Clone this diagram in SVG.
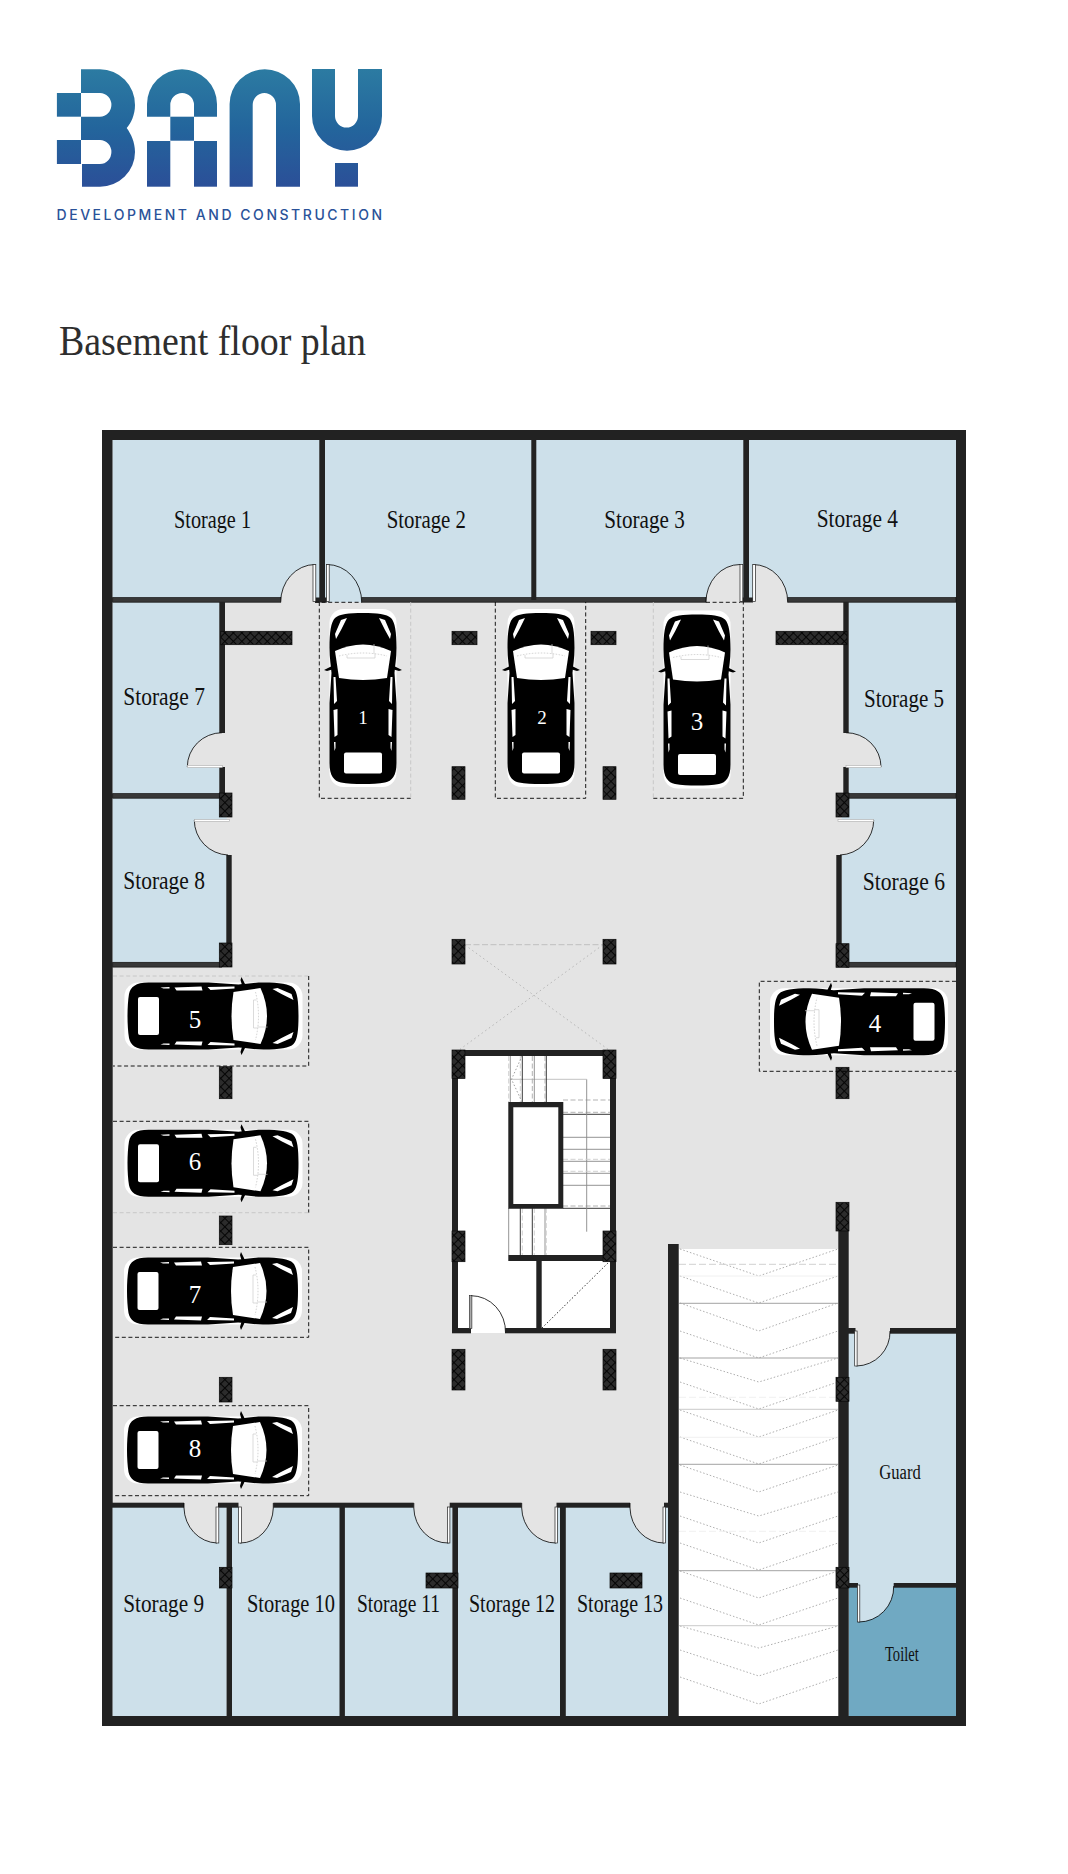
<svg xmlns="http://www.w3.org/2000/svg" xmlns:xlink="http://www.w3.org/1999/xlink" width="1068" height="1874" viewBox="0 0 1068 1874">
<style>
.wall{fill:#222}
.wall2{fill:#383838;stroke:#111;stroke-width:.7}
.room{fill:#cde0ea}
.col{fill:url(#hatch);stroke:#0a0a0a;stroke-width:.7}
.df{stroke:none}
.arc{fill:none;stroke:#000;stroke-width:.8}
.leaf{fill:#fff;stroke:#222;stroke-width:.7}
.leafh{fill:#fff;stroke:#aaa;stroke-width:.6}
.pk{fill:none;stroke:#000;stroke-width:.9;stroke-dasharray:4 2.6}
.pkf{fill:none;stroke:#c4c4c4;stroke-width:.9;stroke-dasharray:4 2.6}
.lbl{font-family:"Liberation Serif",serif;font-size:25px;fill:#111}
.num{font-family:"Liberation Serif",serif;font-size:25px;fill:#fff;text-anchor:middle}
.chev{fill:none;stroke:#999;stroke-width:.8;stroke-dasharray:1.5 2}
.st{stroke:#888;stroke-width:.9;fill:none}
.sk{stroke:#222;stroke-width:.9;fill:none}
.sd{stroke:#aaa;stroke-width:.9;fill:none;stroke-dasharray:5 2.5}
.sl{stroke:#ccc;stroke-width:.9;fill:none;stroke-dasharray:5 2.5}
</style>
<defs>
<linearGradient id="logoG" gradientUnits="userSpaceOnUse" x1="0" y1="69" x2="0" y2="187">
<stop offset="0" stop-color="#2c7ba2"/><stop offset=".5" stop-color="#23659c"/><stop offset="1" stop-color="#2b4f98"/>
</linearGradient>
<pattern id="hatch" width="6" height="6" patternUnits="userSpaceOnUse" patternTransform="rotate(45)">
<rect width="6" height="6" fill="#2c2c2c"/><path d="M0 0H6M0 0V6" stroke="#060606" stroke-width="2.2"/>
</pattern>
<g id="car">
<rect x="-33.5" y="-89" width="67" height="178" rx="14" fill="#fff"/>
<path fill="#000" d="M0 -85C-14 -85 -24 -84 -28 -80C-32 -76 -33.5 -66 -33.5 -50C-33.5 -40 -32 -32 -31.5 -25L-33.5 5V65C-33.5 78 -29 83 -22 84.5C-10 86.5 10 86.5 22 84.5C29 83 33.5 78 33.5 65V5L31.5 -25C32 -32 33.5 -40 33.5 -50C33.5 -66 32 -76 28 -80C24 -84 14 -85 0 -85Z"/>
<path fill="#000" d="M-29 -33L-39 -28L-36 -27L-29 -29ZM29 -33L39 -28L36 -27L29 -29Z"/>
<path fill="#fff" d="M-28 -47Q0 -60 28 -47L24 -20Q0 -16 -24 -20Z"/>
<rect x="-19" y="54.5" width="38" height="21" rx="2" fill="#fff"/>
<path fill="#fff" d="M-16 -80L-22 -78L-28 -64L-27 -59L-22 -68ZM16 -80L22 -78L28 -64L27 -59L22 -68Z"/>
<path fill="#fff" d="M-29.5 -21L-27.5 -21L-26 3L-29 6ZM29.5 -21L27.5 -21L26 3L29 6Z"/>
<path fill="#fff" d="M-29.5 12L-25.5 11L-25.5 37L-28.5 39ZM29.5 12L25.5 11L25.5 37L28.5 39Z"/>
<path fill="#fff" d="M-29 44L-27.5 44L-27.5 50L-28.5 53ZM29 44L27.5 44L27.5 50L28.5 53Z"/>
<path d="M-24 -42Q0 -48 24 -42" fill="none" stroke="#bbb" stroke-width=".7" stroke-dasharray="1.5 1.5"/>
<path d="M-16 -43V-40H12V-44M11 -54V-44" fill="none" stroke="#ccc" stroke-width=".7"/>
</g>
</defs>
<rect width="1068" height="1874" fill="#fff"/>

<g id="logo" fill="url(#logoG)">
<rect x="56.9" y="93" width="24.1" height="23.7"/>
<rect x="56.9" y="140" width="24.1" height="24"/>
<path d="M81 69.3H100A35 35.5 0 0 1 135 105C135 115 131 123 126.7 128C131 134 135 142 135 152A35 34.7 0 0 1 100 186.7H82V164H100A11.4 12 0 0 0 111.4 152A11.4 12 0 0 0 100 140H81V116.7H100A11.4 11.8 0 0 0 111.4 105A11.4 12 0 0 0 100 93H81Z"/>
<path d="M147 116.7V104A35 34.7 0 0 1 217 104V116.7H194V105A11.85 12 0 0 0 170.3 105V116.7Z"/>
<rect x="170.3" y="116.7" width="23.7" height="24"/>
<rect x="147" y="141" width="23.3" height="45.7"/>
<rect x="194" y="141" width="23" height="45.7"/>
<path d="M229.6 186.7V104A35.2 34.7 0 0 1 300 104V186.7H276V105A11.65 12 0 0 0 252.7 105V186.7Z"/>
<path d="M312 69H335V116A11.5 11.5 0 0 0 358 116V69H382V116A35 34.7 0 0 1 312 116Z"/>
<rect x="335" y="163" width="23" height="23.7"/>
<text x="56.5" y="220.3" font-family="Inter,'Liberation Sans',sans-serif" font-weight="500" font-size="14" fill="#2a5299" textLength="325.5">DEVELOPMENT AND CONSTRUCTION</text>
</g>
<text id="title" x="59" y="355" font-family="'Liberation Serif',serif" font-size="43" fill="#2e2e2e" textLength="307" lengthAdjust="spacingAndGlyphs">Basement floor plan</text>

<g id="floor">
<rect x="102" y="430" width="864" height="1296" fill="#222"/>
<rect x="112.7" y="440" width="843.3" height="1276" fill="#e4e4e4"/>
</g>

<g id="rooms">
<rect class="room" x="112.7" y="440" width="207" height="158"/>
<rect class="room" x="325" y="440" width="207" height="158"/>
<rect class="room" x="536" y="440" width="208" height="158"/>
<rect class="room" x="749" y="440" width="207" height="158"/>
<rect class="room" x="112.7" y="602" width="107" height="192"/>
<rect class="room" x="848.7" y="602" width="107.3" height="192"/>
<rect class="room" x="112.7" y="798" width="114" height="164.5"/>
<rect class="room" x="841.7" y="798" width="114.3" height="164.5"/>
<rect class="room" x="112.7" y="1507" width="114" height="209"/>
<rect class="room" x="232" y="1507" width="108" height="209"/>
<rect class="room" x="344.5" y="1507" width="108" height="209"/>
<rect class="room" x="458" y="1507" width="102" height="209"/>
<rect class="room" x="565.5" y="1507" width="103" height="209"/>
<rect class="room" x="848" y="1333" width="108" height="254"/>
<rect x="848.7" y="1587" width="107.3" height="129" fill="#70a9c2"/>
<rect x="678.7" y="1249" width="160" height="467" fill="#fff"/>
<rect x="452" y="1050" width="164" height="283" fill="#fff"/>
</g>

<g id="ramp">
<path class="chev" d="M680 1249L758.7 1276L838 1249M680 1276L758.7 1303L838 1276M680 1303L758.7 1331L838 1303M680 1331L758.7 1358L838 1331M680 1358L758.7 1382L838 1358M680 1382L758.7 1409L838 1382M680 1410L758.7 1437L838 1410M680 1437L758.7 1464L838 1437M680 1465L758.7 1492L838 1465M680 1492L758.7 1516L838 1492M680 1516L758.7 1543L838 1516M680 1543L758.7 1570L838 1543M680 1571L758.7 1598L838 1571M680 1598L758.7 1625L838 1598M680 1626L758.7 1648L838 1626M680 1650L758.7 1676L838 1650M680 1677L758.7 1704L838 1677"/>
<path d="M679 1264.3H838" stroke="#ccc" stroke-width=".9" stroke-dasharray="7 3" fill="none"/>
<path d="M679 1276H838M679 1437.3H838" stroke="#eee" stroke-width=".9" fill="none"/>
<path d="M679 1303.3H838M679 1358H838M679 1464.3H838M679 1570.7H838" stroke="#999" stroke-width=".9" fill="none"/>
<path d="M679 1409.3H838M679 1625.7H838" stroke="#c4c4c4" stroke-width=".9" fill="none"/>
<path d="M679 1397.3H838M679 1531.3H838" stroke="#eee" stroke-width=".9" stroke-dasharray="7 3" fill="none"/>
</g>

<g id="stairs">
<path class="sd" d="M563 1100H610M563 1112.3H610M563 1206H610"/>
<path class="sk" d="M563 1114.3H610M563 1208.3H610"/>
<path class="st" d="M563 1137.3H610M563 1149.3H610M563 1161.3H610M563 1173.3H610M563 1185.3H610M586.7 1079.3V1231.7"/>
<path class="sl" d="M563 1159.3H610M563 1171.3H610"/>
<path d="M510 1079.3H586.7" stroke="#bbb" stroke-width=".9" fill="none"/>
<path class="sl" d="M508.7 1056V1102M520.3 1056V1102"/>
<path class="st" d="M510.3 1056V1102M534.3 1056V1102"/>
<path class="sk" d="M522.3 1056V1102M546.3 1056V1102"/>
<path class="sd" d="M532.3 1056V1102M545 1056V1102"/>
<path d="M522 1056L511.5 1079.3L522 1102" fill="none" stroke="#888" stroke-width=".8" stroke-dasharray="1.5 2"/>
<path class="st" d="M508.7 1208V1255M545 1208V1255"/>
<path class="sk" d="M520.3 1208V1255M532.3 1208V1255"/>
<path class="sl" d="M522.3 1208V1255M534.3 1208V1255M546.3 1208V1255"/>
<path d="M465 945L608 1049.3M602.7 945L460 1049.3" fill="none" stroke="#aaa" stroke-width=".8" stroke-dasharray="1.5 3"/>
<path d="M465 944.7H603" fill="none" stroke="#bbb" stroke-width=".9" stroke-dasharray="6 2.5"/>
<path d="M542 1328L610 1261" fill="none" stroke="#000" stroke-width=".8" stroke-dasharray="1.5 2"/>
</g>

<g id="walls">
<rect class="wall2" x="112.7" y="597.6" width="168" height="4.6"/>
<rect class="wall" x="315" y="597.5" width="12" height="5"/>
<rect class="wall2" x="361.7" y="597.6" width="344.3" height="4.6"/>
<rect class="wall" x="740" y="597.5" width="13" height="5"/>
<rect class="wall2" x="787.7" y="597.6" width="168.3" height="4.6"/>
<rect class="wall" x="319.3" y="440" width="5.7" height="160"/>
<rect class="wall" x="531.3" y="440" width="5" height="160"/>
<rect class="wall" x="743.3" y="440" width="5.7" height="160"/>
<rect class="wall" x="219.3" y="602" width="5.7" height="131"/>
<rect class="wall" x="219.3" y="767" width="5.7" height="28"/>
<rect class="wall" x="843.3" y="602" width="5.4" height="131"/>
<rect class="wall" x="843.3" y="767" width="5.4" height="28"/>
<rect class="wall2" x="112.7" y="793.6" width="109" height="4.6"/>
<rect class="wall2" x="846" y="793.6" width="110" height="4.6"/>
<rect class="wall" x="226.3" y="855" width="5.4" height="90"/>
<rect class="wall" x="836.3" y="855" width="5.4" height="90"/>
<rect class="wall2" x="112.7" y="962.3" width="109" height="4.8"/>
<rect class="wall2" x="846" y="962.3" width="110" height="4.8"/>
<rect class="wall" x="112" y="1502.7" width="72" height="5"/>
<rect class="wall" x="218" y="1502.7" width="20.5" height="5"/>
<rect class="wall" x="273.3" y="1502.7" width="140.5" height="5"/>
<rect class="wall" x="449.7" y="1502.7" width="72" height="5"/>
<rect class="wall" x="556.5" y="1502.7" width="73.5" height="5"/>
<rect class="wall" x="664" y="1502.7" width="5" height="5"/>
<rect class="wall" x="226.6" y="1503" width="5.4" height="213"/>
<rect class="wall" x="339.5" y="1503" width="5.4" height="213"/>
<rect class="wall" x="452.4" y="1503" width="5.6" height="213"/>
<rect class="wall" x="560" y="1503" width="5.8" height="213"/>
<rect class="wall" x="668" y="1244" width="10.7" height="472"/>
<rect class="wall" x="838.3" y="1228" width="10.4" height="488"/>
<rect class="wall" x="890" y="1328" width="66" height="5.7"/>
<rect class="wall" x="848" y="1328" width="7.5" height="5.7"/>
<rect class="wall" x="893.7" y="1583" width="62.3" height="4.7"/>
<rect class="wall" x="848" y="1583" width="10" height="4.7"/>
<g id="core-walls">
<rect class="wall" x="452" y="1050" width="164" height="6"/>
<rect class="wall" x="452" y="1050" width="6" height="283"/>
<rect class="wall" x="610" y="1050" width="6" height="283"/>
<path class="wall" fill-rule="evenodd" d="M508.3 1102H563.3V1208.7H508.3ZM513.3 1107.3V1204H558.3V1107.3Z"/>
<rect class="wall" x="508.3" y="1255" width="103" height="6"/>
<rect class="wall" x="536.3" y="1261" width="5.4" height="68"/>
<rect class="wall" x="452" y="1328" width="19" height="5.3"/>
<rect class="wall" x="505" y="1328" width="111" height="5.3"/>
</g>
</g>

<g id="columns">
<rect class="col" x="220.7" y="631.3" width="71.3" height="13.4"/>
<rect class="col" x="452" y="631.3" width="25" height="13.4"/>
<rect class="col" x="591" y="631.3" width="25" height="13.4"/>
<rect class="col" x="776" y="631.3" width="71" height="13.4"/>
<rect class="col" x="452" y="766.7" width="13" height="32.6"/>
<rect class="col" x="603" y="766.7" width="13" height="32.6"/>
<rect class="col" x="219.3" y="793" width="12.7" height="24"/>
<rect class="col" x="836" y="793" width="13" height="24"/>
<rect class="col" x="219.3" y="943" width="12.7" height="24"/>
<rect class="col" x="836" y="943.7" width="13" height="23.6"/>
<rect class="col" x="452" y="939.3" width="13" height="24.7"/>
<rect class="col" x="603" y="939.3" width="13" height="24.7"/>
<rect class="col" x="219.3" y="1066.7" width="12.7" height="32"/>
<rect class="col" x="836" y="1067.3" width="13" height="31.4"/>
<rect class="col" x="219.3" y="1216" width="12.7" height="28.7"/>
<rect class="col" x="219.3" y="1377.3" width="12.7" height="24.7"/>
<rect class="col" x="836" y="1202.3" width="13" height="28.7"/>
<rect class="col" x="836" y="1377.3" width="13" height="24"/>
<rect class="col" x="836" y="1567.3" width="13" height="20.7"/>
<rect class="col" x="452" y="1050" width="13" height="28.5"/>
<rect class="col" x="603" y="1050" width="13" height="28.5"/>
<rect class="col" x="452" y="1231" width="13" height="30.7"/>
<rect class="col" x="603" y="1231" width="13" height="30.7"/>
<rect class="col" x="452" y="1349.3" width="13" height="40.7"/>
<rect class="col" x="603" y="1349.3" width="13" height="40.7"/>
<rect class="col" x="219.4" y="1567.3" width="12.6" height="20.7"/>
<rect class="col" x="426" y="1573" width="32" height="15"/>
<rect class="col" x="610" y="1573" width="32" height="15"/>
</g>

<g id="doors">
<g fill="#e4e4e4">
<path class="df" d="M315 564.5A34.5 37.5 0 0 0 280.7 602.3H315Z"/>
<path class="df" d="M740 564.5A34 37.5 0 0 0 706 602.3H740Z"/>
<path class="df" d="M753 564.5A34.7 37.5 0 0 1 787.7 602.3H753Z"/>
<path class="df" d="M222 732.7A35 34.3 0 0 0 187.3 767H222Z"/>
<path class="df" d="M846 732.7A35 34.3 0 0 1 881 767H846Z"/>
<path class="df" d="M232 820H194.3A35 35 0 0 0 232 855Z"/>
<path class="df" d="M836 820H873.7A35 35 0 0 1 836 855Z"/>
<path class="df" d="M184 1502.7V1508A34 36 0 0 0 217 1543V1502.7Z"/>
<path class="df" d="M273.3 1502.7V1508A33 36 0 0 1 240 1543V1502.7Z"/>
<path class="df" d="M413.8 1502.7V1508A34 36 0 0 0 448.5 1543V1502.7Z"/>
<path class="df" d="M521.7 1502.7V1508A34 36 0 0 0 556 1543V1502.7Z"/>
<path class="df" d="M630 1502.7V1508A34 36 0 0 0 664 1543V1502.7Z"/>
<path class="df" d="M856 1333V1366A34 34 0 0 0 890 1331H856Z"/>
</g>
<path class="df" fill="#cde0ea" d="M327 564.5A34.7 37.5 0 0 1 361.7 602.3H327Z"/>
<path class="df" fill="#cde0ea" d="M858.5 1587V1622A35 35 0 0 0 893.7 1586H858.5Z"/>
<path class="df" fill="#fff" d="M471 1295.7A34.5 36 0 0 1 505.5 1333H471Z"/>
<path class="arc" d="M315 564.5A34.5 37.5 0 0 0 280.7 602.3M327 564.5A34.7 37.5 0 0 1 361.7 602.3M740 564.5A34 37.5 0 0 0 706 602.3M753 564.5A34.7 37.5 0 0 1 787.7 602.3M222 732.7A35 34.3 0 0 0 187.3 767M846 732.7A35 34.3 0 0 1 881 767M194.3 820A35 35 0 0 0 228 855M873.7 820A35 35 0 0 1 840 855M184 1503V1508A34 36 0 0 0 217 1543M273.3 1503V1508A33 36 0 0 1 240 1543M413.8 1503V1508A34 36 0 0 0 448.5 1543M521.7 1503V1508A34 36 0 0 0 556 1543M630 1503V1508A34 36 0 0 0 664 1543M856.5 1366A34 34 0 0 0 890 1331M858.5 1622A35 35 0 0 0 893.7 1586M471 1295.7A34.5 36 0 0 1 505.5 1333"/>
<rect class="leaf" x="313" y="564.5" width="2.8" height="37"/>
<rect class="leaf" x="326.4" y="564.5" width="2.8" height="37"/>
<rect class="leaf" x="740" y="564.5" width="2.8" height="37"/>
<rect class="leaf" x="752.7" y="564.5" width="2.8" height="37"/>
<rect class="leafh" x="187.3" y="765.5" width="35" height="2"/>
<rect class="leafh" x="846" y="765.5" width="35" height="2"/>
<rect class="leafh" x="194.3" y="819.5" width="35" height="2"/>
<rect class="leafh" x="838" y="819.5" width="35.7" height="2"/>
<rect class="leaf" x="216" y="1507" width="2.8" height="36"/>
<rect class="leaf" x="238.6" y="1507" width="2.8" height="36"/>
<rect class="leaf" x="447.5" y="1507" width="2.4" height="36"/>
<rect class="leaf" x="555" y="1507" width="2.4" height="36"/>
<rect class="leaf" x="663" y="1507" width="2.4" height="36"/>
<rect class="leaf" x="854.7" y="1331" width="2.4" height="35"/>
<rect class="leaf" x="857.4" y="1585" width="2.4" height="37"/>
<rect x="469.3" y="1295.7" width="2.6" height="33" fill="#aaa" stroke="#222" stroke-width=".6"/>
</g>

<g id="connectors">
<path class="pk" d="M319.3 602V798.3H410.7"/><path class="pkf" d="M410.7 602V798.3"/>
<path class="pk" d="M495.3 602V798.3H585.7V602"/>
<path class="pkf" d="M653.3 602V798.3"/><path class="pk" d="M653.3 798.3H743.3V602"/>
<path class="pk" d="M315 602.3H361.7M706 602.3H740"/>
<path class="pkf" d="M113 976H308.7"/><path class="pk" d="M308.7 976V1066H113"/>
<path class="pk" d="M113 1121.3H308.7V1212.7"/><path class="pkf" d="M113 1212.7H308.7"/>
<path class="pk" d="M113 1247.3H308.7V1337.3H113"/>
<path class="pk" d="M113 1405.7H308.7V1495.7H113"/>
<path class="pk" d="M956 981.3H759.3V1071.3H956"/>
</g>

<g id="cars">
<use xlink:href="#car" href="#car" transform="translate(363,698)"/>
<use xlink:href="#car" href="#car" transform="translate(541,698)"/>
<use xlink:href="#car" href="#car" transform="translate(697,699.5)"/>
<use xlink:href="#car" href="#car" transform="translate(859,1021.7) rotate(-90)"/>
<use xlink:href="#car" href="#car" transform="translate(213.5,1016) rotate(90)"/>
<use xlink:href="#car" href="#car" transform="translate(213.5,1163.3) rotate(90)"/>
<use xlink:href="#car" href="#car" transform="translate(213,1291) rotate(90)"/>
<use xlink:href="#car" href="#car" transform="translate(213,1450) rotate(90)"/>
<text class="num" x="363" y="724" style="font-size:19px">1</text>
<text class="num" x="542" y="724" style="font-size:19px">2</text>
<text class="num" x="697" y="730">3</text>
<text class="num" x="875" y="1031.7">4</text>
<text class="num" x="195" y="1028">5</text>
<text class="num" x="195" y="1170">6</text>
<text class="num" x="195" y="1303">7</text>
<text class="num" x="195" y="1457">8</text>
</g>

<g id="labels">
<text class="lbl" x="174" y="528" textLength="77" lengthAdjust="spacingAndGlyphs">Storage 1</text>
<text class="lbl" x="386.7" y="528" textLength="79.3" lengthAdjust="spacingAndGlyphs">Storage 2</text>
<text class="lbl" x="604.3" y="528" textLength="80.4" lengthAdjust="spacingAndGlyphs">Storage 3</text>
<text class="lbl" x="816.7" y="526.7" textLength="81.3" lengthAdjust="spacingAndGlyphs">Storage 4</text>
<text class="lbl" x="864" y="707" textLength="80" lengthAdjust="spacingAndGlyphs">Storage 5</text>
<text class="lbl" x="862.7" y="890" textLength="82.3" lengthAdjust="spacingAndGlyphs">Storage 6</text>
<text class="lbl" x="123.3" y="705" textLength="81.7" lengthAdjust="spacingAndGlyphs">Storage 7</text>
<text class="lbl" x="123.3" y="889.3" textLength="81.7" lengthAdjust="spacingAndGlyphs">Storage 8</text>
<text class="lbl" x="123.3" y="1611.7" textLength="80.7" lengthAdjust="spacingAndGlyphs">Storage 9</text>
<text class="lbl" x="247" y="1611.7" textLength="88" lengthAdjust="spacingAndGlyphs">Storage 10</text>
<text class="lbl" x="357" y="1611.7" textLength="83" lengthAdjust="spacingAndGlyphs">Storage 11</text>
<text class="lbl" x="469" y="1611.7" textLength="86" lengthAdjust="spacingAndGlyphs">Storage 12</text>
<text class="lbl" x="577" y="1611.7" textLength="86" lengthAdjust="spacingAndGlyphs">Storage 13</text>
<text class="lbl" x="879.3" y="1479" style="font-size:20px" textLength="41.4" lengthAdjust="spacingAndGlyphs">Guard</text>
<text class="lbl" x="885" y="1660.7" style="font-size:20px" textLength="33.7" lengthAdjust="spacingAndGlyphs">Toilet</text>
</g>
</svg>
